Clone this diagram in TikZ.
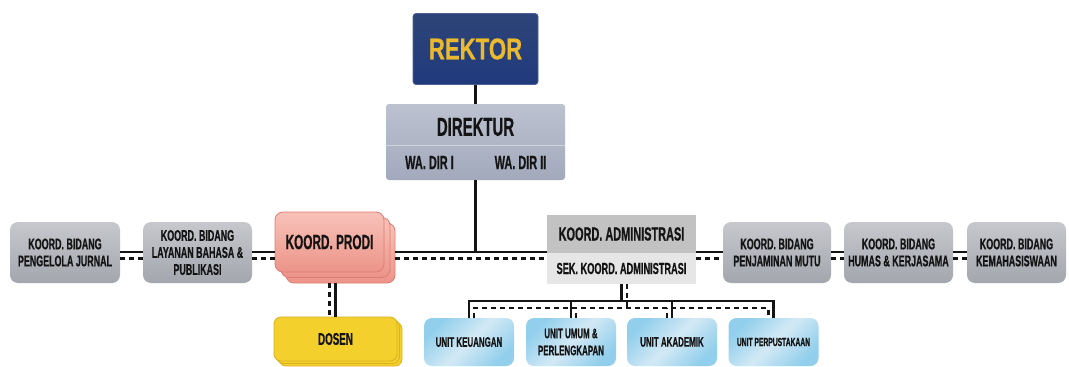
\documentclass[tikz,border=0pt]{standalone}
\usepackage{fontspec}
\newfontfamily\cf{Liberation Sans}[FakeStretch=0.575,FakeBold=0.6]
\newfontfamily\rf{Liberation Sans}[FakeStretch=0.74,FakeBold=0.6]
\definecolor{rkT}{HTML}{2E4478}
\definecolor{rkB}{HTML}{203A7C}
\definecolor{rkY}{HTML}{EAB92E}
\definecolor{drT}{HTML}{BCC2D0}
\definecolor{drB}{HTML}{A2A9BB}
\definecolor{gT}{HTML}{C6C8CD}
\definecolor{gB}{HTML}{A3A6AD}
\definecolor{adT}{HTML}{C2C2C2}
\definecolor{adB}{HTML}{E6E6E6}
\definecolor{pT}{HTML}{F8C2B9}
\definecolor{pB}{HTML}{EC9489}
\definecolor{pE}{HTML}{DE7D72}
\definecolor{dY}{HTML}{F4D02C}
\definecolor{dE}{HTML}{D9B21E}
\definecolor{uB}{HTML}{92CFEC}
\definecolor{uL}{HTML}{D3E9F5}
\definecolor{ink}{HTML}{141414}
\begin{document}
\begin{tikzpicture}[x=1pt,y=-1pt,
  lab/.style={font=\cf\bfseries\fontsize{15.5}{17}\selectfont, text=ink, align=center, inner sep=0pt},
  gbox/.style={lab, rounded corners=8pt, top color=gT, bottom color=gB, minimum width=109pt, minimum height=61pt},
  ubox/.style={lab, font=\cf\bfseries\fontsize{13.8}{17}\selectfont, rounded corners=8pt, left color=uB, right color=uB, middle color=uL, shading angle=45, minimum width=90pt, minimum height=48pt},
  pcard/.style={lab, rounded corners=8pt, top color=pT, bottom color=pB, draw=pE, line width=0.8pt, minimum width=109pt, minimum height=60pt},
  dcard/.style={lab, rounded corners=7pt, fill=dY, draw=dE, line width=0.8pt, minimum width=123pt, minimum height=44pt},
  solidln/.style={line width=2.6pt, ink},
  dashln/.style={line width=2.1pt, ink, dash pattern=on 5pt off 4pt}
]
\useasboundingbox (0,0) rectangle (1069,367);
\fill[white] (0,0) rectangle (1069,367);

% REKTOR
\node[rounded corners=3pt, top color=rkT, bottom color=rkB, draw=rkB!80!white, line width=0.8pt,
      minimum width=125pt, minimum height=71pt, inner sep=0pt,
      font=\rf\bfseries\fontsize{30}{32}\selectfont, text=rkY] (rek) at (475.5,49) {REKTOR};

% DIREKTUR
\node[rounded corners=3pt, top color=drT, bottom color=drB, minimum width=179pt, minimum height=76pt, inner sep=0pt] (dir) at (475.5,142) {};
\draw[drT!70!white, line width=0.8pt] ([yshift=-3pt]dir.west) -- ([yshift=-3pt]dir.east);
\node[lab, font=\cf\bfseries\fontsize{26}{28}\selectfont] (dirt) at (475.5,127) {DIREKTUR};
\node[lab, font=\cf\bfseries\fontsize{19}{21}\selectfont] (wa1) at (429.5,162.5) {WA. DIR I};
\node[lab, font=\cf\bfseries\fontsize{19}{21}\selectfont] (wa2) at (520.5,162.5) {WA. DIR II};

% left boxes
\node[gbox, minimum width=110pt] (j1) at (65,252.5) {KOORD. BIDANG\\PENGELOLA JURNAL};
\node[gbox] (j2) at (197.5,252.5) {KOORD. BIDANG\\LAYANAN BAHASA \&\\PUBLIKASI};

% KOORD. PRODI stack
\node[pcard] (prodi3) at (340.5,253) {};
\node[pcard] (prodi2) at (335.5,247.5) {};
\node[pcard, font=\cf\bfseries\fontsize{20.5}{22}\selectfont] (prodi) at (329.5,242) {KOORD. PRODI};

% DOSEN stack
\node[dcard] (dosen3) at (340.5,344) {};
\node[dcard] (dosen2) at (338,341.5) {};
\node[dcard, font=\cf\bfseries\fontsize{17}{19}\selectfont] (dosen) at (335.5,339) {DOSEN};

% ADMINISTRASI
\node[lab, fill=adT, minimum width=149pt, minimum height=38pt, font=\cf\bfseries\fontsize{19}{21}\selectfont] (admint) at (621.5,234) {KOORD. ADMINISTRASI};
\node[lab, fill=adB, minimum width=149pt, minimum height=31pt, font=\cf\bfseries\fontsize{16}{18}\selectfont] (adminb) at (621.5,268.5) {SEK. KOORD. ADMINISTRASI};

% right boxes
\node[gbox, minimum width=108pt] (pm) at (777,252.5) {KOORD. BIDANG\\PENJAMINAN MUTU};
\node[gbox] (humas) at (898.5,252.5) {KOORD. BIDANG\\HUMAS \& KERJASAMA};
\node[gbox, minimum width=99pt] (kema) at (1016.5,252.5) {KOORD. BIDANG\\KEMAHASISWAAN};

% units
\node[ubox] (keu) at (469,342) {UNIT KEUANGAN};
\node[ubox] (umum) at (571,342) {UNIT UMUM \&\\PERLENGKAPAN};
\node[ubox] (akad) at (672,342) {UNIT AKADEMIK};
\node[ubox, font=\cf\bfseries\fontsize{11.7}{13}\selectfont] (perp) at (773.5,342) {UNIT PERPUSTAKAAN};

% helper coordinates
\coordinate (mainy) at (0,252);
\coordinate (dashy) at (0,258.5);
\coordinate (bus) at (621.5,301);
\coordinate (dL) at (474,308);
\coordinate (dU) at (576,308);
\coordinate (dA) at (667,308);
\coordinate (dR) at (768.5,308);
\coordinate (dM) at (627,308);

% vertical connectors at top
\draw[solidln] (rek.south) -- (dir.north);
\draw[solidln] (dir.south) -- (dir.south |- mainy);

% main horizontal line (solid)
\draw[solidln] (j1.east |- mainy) -- (j2.west |- mainy);
\draw[solidln] (j2.east |- mainy) -- (prodi.west |- mainy);
\draw[solidln] (prodi3.east |- mainy) -- (admint.west |- mainy);
\draw[solidln] (admint.east |- mainy) -- (pm.west |- mainy);
\draw[solidln] (pm.east |- mainy) -- (humas.west |- mainy);
\draw[solidln] (humas.east |- mainy) -- (kema.west |- mainy);
% main horizontal line (dashed)
\draw[dashln] (j1.east |- dashy) -- (j2.west |- dashy);
\draw[dashln] (j2.east |- dashy) -- (prodi.west |- dashy);
\draw[dashln] (prodi3.east |- dashy) -- (admint.west |- dashy);
\draw[dashln] (admint.east |- dashy) -- (pm.west |- dashy);
\draw[dashln] (pm.east |- dashy) -- (humas.west |- dashy);
\draw[dashln] (humas.east |- dashy) -- (kema.west |- dashy);

% prodi to dosen
\draw[solidln] (prodi3.south -| prodi2.south) -- (prodi2.south |- dosen.north);
\draw[dashln] (prodi3.south -| prodi.south) -- (prodi.south |- dosen.north);

% administrasi to units
\draw[solidln] (adminb.south) -- (bus);
\draw[solidln] (keu.north) -- (keu.north |- bus) -- (perp.north |- bus) -- (perp.north);
\draw[solidln] (umum.north) -- (umum.north |- bus);
\draw[solidln] (akad.north) -- (akad.north |- bus);
\draw[dashln] (adminb.south -| dM) -- (dM);
\draw[dashln] (keu.north -| dL) -- (dL) -- (dR) -- (perp.north -| dR);
\draw[dashln] (umum.north -| dU) -- (dU);
\draw[dashln] (akad.north -| dA) -- (dA);
\end{tikzpicture}
\end{document}
